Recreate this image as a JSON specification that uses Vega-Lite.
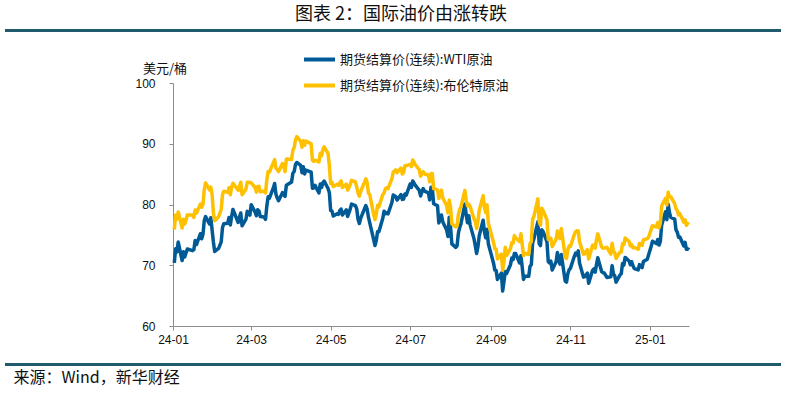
{
  "$schema": "https://vega.github.io/schema/vega-lite/v6.json",
  "width": 516,
  "height": 243,
  "autosize": {"type": "none"},
  "padding": {"left": 173, "top": 83, "right": 98, "bottom": 69},
  "background": "white",
  "config": {"view": {"stroke": null}, "font": "Noto Sans CJK SC"},
  "title": {"text": "图表 2：国际油价由涨转跌", "font": "Noto Sans CJK SC", "fontSize": 18, "fontWeight": "normal", "color": "#111111", "anchor": "middle", "frame": "group", "dx": -30, "dy": -1},
  "layer": [
    {
      "data": {"values": [
{"d":"2024-01-02","WTI":70.38,"Brent":75.89},{"d":"2024-01-03","WTI":72.70,"Brent":78.25},{"d":"2024-01-04","WTI":72.19,"Brent":77.59},{"d":"2024-01-05","WTI":73.81,"Brent":78.76},{"d":"2024-01-08","WTI":70.77,"Brent":76.12},{"d":"2024-01-09","WTI":72.24,"Brent":77.59},{"d":"2024-01-10","WTI":71.37,"Brent":76.80},{"d":"2024-01-11","WTI":72.02,"Brent":77.41},{"d":"2024-01-12","WTI":72.68,"Brent":78.29},{"d":"2024-01-16","WTI":72.40,"Brent":78.29},{"d":"2024-01-17","WTI":72.56,"Brent":77.88},{"d":"2024-01-18","WTI":74.08,"Brent":79.10},{"d":"2024-01-19","WTI":73.41,"Brent":78.56},{"d":"2024-01-22","WTI":75.19,"Brent":80.06},{"d":"2024-01-23","WTI":74.37,"Brent":79.55},{"d":"2024-01-24","WTI":75.09,"Brent":80.04},{"d":"2024-01-25","WTI":77.36,"Brent":82.43},{"d":"2024-01-26","WTI":78.01,"Brent":83.55},{"d":"2024-01-29","WTI":76.78,"Brent":82.40},{"d":"2024-01-30","WTI":77.82,"Brent":82.87},{"d":"2024-01-31","WTI":75.85,"Brent":81.71},
{"d":"2024-02-01","WTI":73.82,"Brent":78.70},{"d":"2024-02-02","WTI":72.28,"Brent":77.33},{"d":"2024-02-05","WTI":72.78,"Brent":77.99},{"d":"2024-02-06","WTI":73.31,"Brent":78.59},{"d":"2024-02-07","WTI":73.86,"Brent":79.21},{"d":"2024-02-08","WTI":76.22,"Brent":81.63},{"d":"2024-02-09","WTI":76.84,"Brent":82.19},{"d":"2024-02-12","WTI":76.92,"Brent":82.00},{"d":"2024-02-13","WTI":77.87,"Brent":82.77},{"d":"2024-02-14","WTI":76.64,"Brent":81.60},{"d":"2024-02-15","WTI":78.03,"Brent":82.86},{"d":"2024-02-16","WTI":79.19,"Brent":83.47},{"d":"2024-02-20","WTI":77.04,"Brent":82.34},{"d":"2024-02-21","WTI":77.91,"Brent":83.03},{"d":"2024-02-22","WTI":78.61,"Brent":83.67},{"d":"2024-02-23","WTI":76.49,"Brent":81.62},{"d":"2024-02-26","WTI":77.58,"Brent":82.53},{"d":"2024-02-27","WTI":78.87,"Brent":83.65},{"d":"2024-02-28","WTI":78.54,"Brent":83.68},{"d":"2024-02-29","WTI":78.26,"Brent":83.62},
{"d":"2024-03-01","WTI":79.97,"Brent":83.55},{"d":"2024-03-04","WTI":78.74,"Brent":82.80},{"d":"2024-03-05","WTI":78.15,"Brent":82.04},{"d":"2024-03-06","WTI":79.13,"Brent":82.96},{"d":"2024-03-07","WTI":78.93,"Brent":83.00},{"d":"2024-03-08","WTI":78.01,"Brent":82.08},{"d":"2024-03-11","WTI":77.93,"Brent":82.21},{"d":"2024-03-12","WTI":77.56,"Brent":81.92},{"d":"2024-03-13","WTI":79.72,"Brent":84.03},{"d":"2024-03-14","WTI":81.26,"Brent":85.42},{"d":"2024-03-15","WTI":81.04,"Brent":85.34},{"d":"2024-03-18","WTI":82.72,"Brent":86.89},{"d":"2024-03-19","WTI":83.47,"Brent":87.38},{"d":"2024-03-20","WTI":81.68,"Brent":85.95},{"d":"2024-03-21","WTI":81.07,"Brent":85.78},{"d":"2024-03-22","WTI":80.63,"Brent":85.43},{"d":"2024-03-25","WTI":81.95,"Brent":86.75},{"d":"2024-03-26","WTI":81.62,"Brent":86.25},{"d":"2024-03-27","WTI":81.35,"Brent":85.41},{"d":"2024-03-28","WTI":83.17,"Brent":87.48},
{"d":"2024-04-01","WTI":83.71,"Brent":87.42},{"d":"2024-04-02","WTI":85.15,"Brent":88.92},{"d":"2024-04-03","WTI":85.43,"Brent":89.35},{"d":"2024-04-04","WTI":86.59,"Brent":90.65},{"d":"2024-04-05","WTI":86.91,"Brent":91.17},{"d":"2024-04-08","WTI":86.43,"Brent":90.38},{"d":"2024-04-09","WTI":85.23,"Brent":89.42},{"d":"2024-04-10","WTI":86.21,"Brent":90.48},{"d":"2024-04-11","WTI":85.02,"Brent":89.74},{"d":"2024-04-12","WTI":85.66,"Brent":90.45},{"d":"2024-04-15","WTI":85.41,"Brent":90.10},{"d":"2024-04-16","WTI":85.36,"Brent":90.02},{"d":"2024-04-17","WTI":82.69,"Brent":87.29},{"d":"2024-04-18","WTI":82.73,"Brent":87.11},{"d":"2024-04-19","WTI":83.14,"Brent":87.29},{"d":"2024-04-22","WTI":81.90,"Brent":87.00},{"d":"2024-04-23","WTI":83.36,"Brent":88.42},{"d":"2024-04-24","WTI":82.81,"Brent":88.02},{"d":"2024-04-25","WTI":83.57,"Brent":89.01},{"d":"2024-04-26","WTI":83.85,"Brent":89.50},{"d":"2024-04-29","WTI":82.63,"Brent":88.40},{"d":"2024-04-30","WTI":81.93,"Brent":86.33},
{"d":"2024-05-01","WTI":79.00,"Brent":83.44},{"d":"2024-05-02","WTI":78.95,"Brent":83.67},{"d":"2024-05-03","WTI":78.11,"Brent":82.96},{"d":"2024-05-06","WTI":78.48,"Brent":83.33},{"d":"2024-05-07","WTI":78.38,"Brent":83.16},{"d":"2024-05-08","WTI":78.99,"Brent":83.58},{"d":"2024-05-09","WTI":79.26,"Brent":83.88},{"d":"2024-05-10","WTI":78.26,"Brent":82.79},{"d":"2024-05-13","WTI":79.12,"Brent":83.36},{"d":"2024-05-14","WTI":78.02,"Brent":82.38},{"d":"2024-05-15","WTI":78.63,"Brent":82.75},{"d":"2024-05-16","WTI":79.23,"Brent":83.27},{"d":"2024-05-17","WTI":80.06,"Brent":83.98},{"d":"2024-05-20","WTI":79.80,"Brent":83.71},{"d":"2024-05-21","WTI":79.26,"Brent":82.88},{"d":"2024-05-22","WTI":77.57,"Brent":81.90},{"d":"2024-05-23","WTI":76.87,"Brent":81.36},{"d":"2024-05-24","WTI":77.72,"Brent":82.12},{"d":"2024-05-28","WTI":79.83,"Brent":84.22},{"d":"2024-05-29","WTI":79.23,"Brent":83.60},{"d":"2024-05-30","WTI":77.91,"Brent":81.86},{"d":"2024-05-31","WTI":76.99,"Brent":81.62},
{"d":"2024-06-03","WTI":74.22,"Brent":78.36},{"d":"2024-06-04","WTI":73.25,"Brent":77.52},{"d":"2024-06-05","WTI":74.07,"Brent":78.41},{"d":"2024-06-06","WTI":75.55,"Brent":79.87},{"d":"2024-06-07","WTI":75.53,"Brent":79.62},{"d":"2024-06-10","WTI":77.74,"Brent":81.63},{"d":"2024-06-11","WTI":78.90,"Brent":81.92},{"d":"2024-06-12","WTI":78.50,"Brent":82.60},{"d":"2024-06-13","WTI":78.62,"Brent":82.75},{"d":"2024-06-14","WTI":78.45,"Brent":82.62},{"d":"2024-06-17","WTI":80.33,"Brent":84.25},{"d":"2024-06-18","WTI":81.57,"Brent":85.33},{"d":"2024-06-20","WTI":81.29,"Brent":85.71},{"d":"2024-06-21","WTI":80.73,"Brent":85.24},{"d":"2024-06-24","WTI":81.63,"Brent":86.01},{"d":"2024-06-25","WTI":80.83,"Brent":85.01},{"d":"2024-06-26","WTI":80.90,"Brent":85.25},{"d":"2024-06-27","WTI":81.74,"Brent":86.39},{"d":"2024-06-28","WTI":81.54,"Brent":86.41},
{"d":"2024-07-01","WTI":83.38,"Brent":86.60},{"d":"2024-07-02","WTI":82.81,"Brent":86.24},{"d":"2024-07-03","WTI":83.88,"Brent":87.34},{"d":"2024-07-05","WTI":83.16,"Brent":86.54},{"d":"2024-07-08","WTI":82.33,"Brent":85.75},{"d":"2024-07-09","WTI":81.41,"Brent":84.66},{"d":"2024-07-10","WTI":82.10,"Brent":85.08},{"d":"2024-07-11","WTI":82.62,"Brent":85.40},{"d":"2024-07-12","WTI":82.21,"Brent":85.03},{"d":"2024-07-15","WTI":81.91,"Brent":84.85},{"d":"2024-07-16","WTI":80.76,"Brent":83.73},{"d":"2024-07-17","WTI":82.85,"Brent":85.08},{"d":"2024-07-18","WTI":82.82,"Brent":85.11},{"d":"2024-07-19","WTI":80.13,"Brent":82.63},{"d":"2024-07-22","WTI":79.78,"Brent":82.40},{"d":"2024-07-23","WTI":76.96,"Brent":81.01},{"d":"2024-07-24","WTI":77.59,"Brent":81.71},{"d":"2024-07-25","WTI":78.28,"Brent":82.37},{"d":"2024-07-26","WTI":77.16,"Brent":81.13},{"d":"2024-07-29","WTI":75.81,"Brent":79.78},{"d":"2024-07-30","WTI":74.73,"Brent":78.63},{"d":"2024-07-31","WTI":77.91,"Brent":80.72},
{"d":"2024-08-01","WTI":76.31,"Brent":79.52},{"d":"2024-08-02","WTI":73.52,"Brent":76.81},{"d":"2024-08-05","WTI":72.94,"Brent":76.30},{"d":"2024-08-06","WTI":73.20,"Brent":76.48},{"d":"2024-08-07","WTI":75.23,"Brent":78.33},{"d":"2024-08-08","WTI":76.19,"Brent":79.16},{"d":"2024-08-09","WTI":76.84,"Brent":79.66},{"d":"2024-08-12","WTI":80.06,"Brent":82.30},{"d":"2024-08-13","WTI":78.35,"Brent":80.69},{"d":"2024-08-14","WTI":76.98,"Brent":79.76},{"d":"2024-08-15","WTI":78.16,"Brent":80.04},{"d":"2024-08-16","WTI":76.65,"Brent":79.68},{"d":"2024-08-19","WTI":74.37,"Brent":77.66},{"d":"2024-08-20","WTI":73.17,"Brent":77.20},{"d":"2024-08-21","WTI":71.93,"Brent":76.05},{"d":"2024-08-22","WTI":73.01,"Brent":77.22},{"d":"2024-08-23","WTI":74.83,"Brent":79.02},{"d":"2024-08-26","WTI":77.42,"Brent":81.43},{"d":"2024-08-27","WTI":75.53,"Brent":79.55},{"d":"2024-08-28","WTI":74.52,"Brent":78.65},{"d":"2024-08-29","WTI":75.91,"Brent":79.94},{"d":"2024-08-30","WTI":73.55,"Brent":76.93},
{"d":"2024-09-03","WTI":70.34,"Brent":73.75},{"d":"2024-09-04","WTI":69.20,"Brent":72.70},{"d":"2024-09-05","WTI":69.15,"Brent":72.69},{"d":"2024-09-06","WTI":67.67,"Brent":71.06},{"d":"2024-09-09","WTI":68.71,"Brent":71.84},{"d":"2024-09-10","WTI":65.75,"Brent":69.19},{"d":"2024-09-11","WTI":67.31,"Brent":70.61},{"d":"2024-09-12","WTI":68.97,"Brent":72.97},{"d":"2024-09-13","WTI":68.65,"Brent":71.61},{"d":"2024-09-16","WTI":70.09,"Brent":72.75},{"d":"2024-09-17","WTI":71.19,"Brent":73.70},{"d":"2024-09-18","WTI":70.91,"Brent":73.65},{"d":"2024-09-19","WTI":71.95,"Brent":74.88},{"d":"2024-09-20","WTI":71.92,"Brent":74.49},{"d":"2024-09-23","WTI":70.37,"Brent":73.90},{"d":"2024-09-24","WTI":71.56,"Brent":75.17},{"d":"2024-09-25","WTI":69.69,"Brent":73.46},{"d":"2024-09-26","WTI":67.67,"Brent":71.60},{"d":"2024-09-27","WTI":68.18,"Brent":71.98},{"d":"2024-09-30","WTI":68.17,"Brent":71.77},
{"d":"2024-10-01","WTI":69.83,"Brent":73.56},{"d":"2024-10-02","WTI":70.10,"Brent":73.90},{"d":"2024-10-03","WTI":73.71,"Brent":77.62},{"d":"2024-10-04","WTI":74.38,"Brent":78.05},{"d":"2024-10-07","WTI":77.14,"Brent":80.93},{"d":"2024-10-08","WTI":73.57,"Brent":77.18},{"d":"2024-10-09","WTI":73.24,"Brent":76.58},{"d":"2024-10-10","WTI":75.85,"Brent":79.40},{"d":"2024-10-11","WTI":75.56,"Brent":79.04},{"d":"2024-10-14","WTI":73.83,"Brent":77.46},{"d":"2024-10-15","WTI":70.58,"Brent":74.25},{"d":"2024-10-16","WTI":70.39,"Brent":74.22},{"d":"2024-10-17","WTI":70.67,"Brent":74.45},{"d":"2024-10-18","WTI":69.22,"Brent":73.06},{"d":"2024-10-21","WTI":70.56,"Brent":74.29},{"d":"2024-10-22","WTI":72.09,"Brent":75.64},{"d":"2024-10-23","WTI":70.77,"Brent":74.96},{"d":"2024-10-24","WTI":70.19,"Brent":74.38},{"d":"2024-10-25","WTI":71.78,"Brent":76.05},{"d":"2024-10-28","WTI":67.38,"Brent":71.42},{"d":"2024-10-29","WTI":67.21,"Brent":71.12},{"d":"2024-10-30","WTI":68.61,"Brent":72.55},{"d":"2024-10-31","WTI":69.26,"Brent":73.16},
{"d":"2024-11-01","WTI":69.49,"Brent":73.10},{"d":"2024-11-04","WTI":71.47,"Brent":75.08},{"d":"2024-11-05","WTI":71.99,"Brent":75.53},{"d":"2024-11-06","WTI":71.69,"Brent":75.69},{"d":"2024-11-07","WTI":72.36,"Brent":75.63},{"d":"2024-11-08","WTI":70.38,"Brent":73.87},{"d":"2024-11-11","WTI":68.04,"Brent":71.83},{"d":"2024-11-12","WTI":68.12,"Brent":71.89},{"d":"2024-11-13","WTI":68.43,"Brent":72.28},{"d":"2024-11-14","WTI":68.70,"Brent":72.56},{"d":"2024-11-15","WTI":67.02,"Brent":71.04},{"d":"2024-11-18","WTI":69.16,"Brent":73.30},{"d":"2024-11-19","WTI":69.39,"Brent":73.31},{"d":"2024-11-20","WTI":68.87,"Brent":72.81},{"d":"2024-11-21","WTI":70.10,"Brent":74.23},{"d":"2024-11-22","WTI":71.24,"Brent":75.17},{"d":"2024-11-25","WTI":68.94,"Brent":73.01},{"d":"2024-11-26","WTI":68.77,"Brent":72.81},{"d":"2024-11-27","WTI":68.72,"Brent":72.83},{"d":"2024-11-29","WTI":68.00,"Brent":72.94},
{"d":"2024-12-02","WTI":68.10,"Brent":71.83},{"d":"2024-12-03","WTI":69.94,"Brent":73.62},{"d":"2024-12-04","WTI":68.54,"Brent":72.31},{"d":"2024-12-05","WTI":68.30,"Brent":72.09},{"d":"2024-12-06","WTI":67.20,"Brent":71.12},{"d":"2024-12-09","WTI":68.37,"Brent":72.14},{"d":"2024-12-10","WTI":68.59,"Brent":72.19},{"d":"2024-12-11","WTI":70.29,"Brent":73.52},{"d":"2024-12-12","WTI":70.02,"Brent":73.41},{"d":"2024-12-13","WTI":71.29,"Brent":74.49},{"d":"2024-12-16","WTI":70.71,"Brent":73.91},{"d":"2024-12-17","WTI":70.08,"Brent":73.19},{"d":"2024-12-18","WTI":70.58,"Brent":73.39},{"d":"2024-12-19","WTI":69.91,"Brent":72.88},{"d":"2024-12-20","WTI":69.46,"Brent":72.94},{"d":"2024-12-23","WTI":69.24,"Brent":72.63},{"d":"2024-12-24","WTI":70.10,"Brent":73.58},{"d":"2024-12-26","WTI":69.62,"Brent":73.26},{"d":"2024-12-27","WTI":70.60,"Brent":74.17},{"d":"2024-12-30","WTI":70.99,"Brent":74.39},{"d":"2024-12-31","WTI":71.72,"Brent":74.64},
{"d":"2025-01-02","WTI":73.13,"Brent":75.93},{"d":"2025-01-03","WTI":73.96,"Brent":76.51},{"d":"2025-01-06","WTI":73.56,"Brent":76.30},{"d":"2025-01-07","WTI":74.25,"Brent":77.05},{"d":"2025-01-08","WTI":73.32,"Brent":76.16},{"d":"2025-01-09","WTI":73.92,"Brent":76.92},{"d":"2025-01-10","WTI":76.57,"Brent":79.76},{"d":"2025-01-13","WTI":78.82,"Brent":81.01},{"d":"2025-01-14","WTI":77.50,"Brent":79.92},{"d":"2025-01-15","WTI":80.04,"Brent":82.03},{"d":"2025-01-16","WTI":78.68,"Brent":81.29},{"d":"2025-01-17","WTI":77.88,"Brent":81.29},{"d":"2025-01-20","WTI":77.60,"Brent":80.15},{"d":"2025-01-21","WTI":75.83,"Brent":79.29},{"d":"2025-01-22","WTI":75.44,"Brent":79.00},{"d":"2025-01-23","WTI":74.62,"Brent":78.29},{"d":"2025-01-24","WTI":74.66,"Brent":78.50},{"d":"2025-01-27","WTI":73.17,"Brent":77.08},{"d":"2025-01-28","WTI":73.77,"Brent":77.49},{"d":"2025-01-29","WTI":72.62,"Brent":76.58},{"d":"2025-01-30","WTI":72.73,"Brent":76.87},{"d":"2025-01-31","WTI":72.53,"Brent":76.76}
      ]},
      "transform": [{"fold": ["WTI", "Brent"], "as": ["series", "price"]}],
      "mark": {"type": "line", "strokeWidth": 3.5, "strokeJoin": "round"},
      "encoding": {
        "x": {
          "field": "d", "type": "temporal",
          "scale": {"type": "utc", "domain": [{"year": 2024, "month": 1, "date": 1, "utc": true}, {"year": 2025, "month": 1, "date": 31, "utc": true}]},
          "axis": {
            "values": [
              {"year": 2024, "month": 1, "date": 1, "utc": true},
              {"year": 2024, "month": 3, "date": 1, "utc": true},
              {"year": 2024, "month": 5, "date": 1, "utc": true},
              {"year": 2024, "month": 7, "date": 1, "utc": true},
              {"year": 2024, "month": 9, "date": 1, "utc": true},
              {"year": 2024, "month": 11, "date": 1, "utc": true},
              {"year": 2025, "month": 1, "date": 1, "utc": true}
            ],
            "labelExpr": "utcFormat(datum.value, '%y-%m')",
            "grid": false, "domainColor": "#8c8c8c", "tickColor": "#8c8c8c", "tickSize": 4,
            "labelFont": "Liberation Sans", "labelFontSize": 12, "labelColor": "#111111", "labelPadding": 4, "labelFlush": false,
            "title": "来源：Wind，新华财经", "titleFont": "Noto Sans CJK SC", "titleFontSize": 16, "titleFontWeight": "normal", "titleColor": "#111111",
            "titleX": -160, "titleY": 51.5, "titleAlign": "left", "titleBaseline": "middle", "titleAnchor": "start"
          }
        },
        "y": {
          "field": "price", "type": "quantitative",
          "scale": {"domain": [60, 100], "nice": false, "zero": false},
          "axis": {
            "values": [60, 70, 80, 90, 100], "grid": false,
            "domainColor": "#8c8c8c", "tickColor": "#8c8c8c", "tickSize": 4,
            "labelFont": "Liberation Sans", "labelFontSize": 12, "labelColor": "#111111", "labelPadding": 14,
            "title": "美元/桶", "titleFont": "Noto Sans CJK SC", "titleFontSize": 13, "titleFontWeight": "normal", "titleColor": "#111111",
            "titleAngle": 0, "titleX": -8.5, "titleY": -15, "titleAlign": "center", "titleBaseline": "middle"
          }
        },
        "color": {
          "field": "series", "type": "nominal",
          "scale": {"domain": ["WTI", "Brent"], "range": ["#005A96", "#FFC000"]},
          "legend": {
            "orient": "none", "legendX": 129, "legendY": -41, "direction": "vertical", "title": null,
            "symbolType": "stroke", "symbolSize": 961, "symbolStrokeWidth": 4,
            "labelFont": "Noto Sans CJK SC", "labelFontSize": 13, "labelColor": "#111111", "labelLimit": 400, "labelOffset": 3,
            "rowPadding": -5,
            "labelExpr": "datum.value == 'WTI' ? '期货结算价(连续):WTI原油' : '期货结算价(连续):布伦特原油'"
          }
        }
      }
    },
    {
      "data": {"values": [{}]},
      "mark": {"type": "rule", "color": "#205B6B", "strokeWidth": 3},
      "encoding": {"x": {"value": -168}, "x2": {"value": 608}, "y": {"value": -52.5}}
    },
    {
      "data": {"values": [{}]},
      "mark": {"type": "rule", "color": "#205B6B", "strokeWidth": 3},
      "encoding": {"x": {"value": -168}, "x2": {"value": 608}, "y": {"value": 281.5}}
    }
  ]
}
